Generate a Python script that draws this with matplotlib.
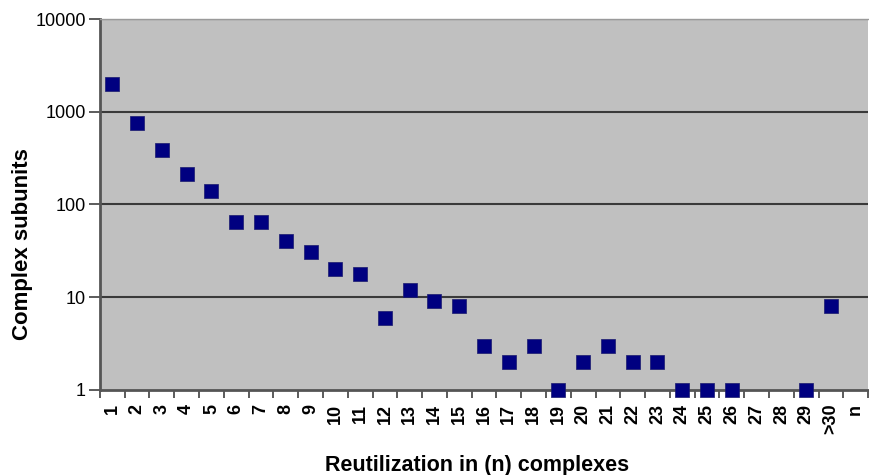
import numpy as np
import matplotlib
matplotlib.use("Agg")
import matplotlib.pyplot as plt
from matplotlib.ticker import FixedLocator, NullFormatter, NullLocator

plt.rcParams['font.family'] = ['Liberation Sans', 'DejaVu Sans']

# categories on the x axis (number of complexes a subunit is reused in)
categories = [str(i) for i in range(1, 30)] + ['>30', 'n']
# subunit counts per category (None = no point shown)
counts = [2000, 750, 390, 215, 140, 65, 65, 40, 31, 20,
          18, 6, 12, 9, 8, 3, 2, 3, 1, 2,
          3, 2, 2, 1, 1, 1, None, None, 1, 8, None]

xpos = np.arange(1, len(categories) + 1)
xs = [x for x, c in zip(xpos, counts) if c is not None]
ys = [c for c in counts if c is not None]

fig = plt.figure(figsize=(8.69, 4.75), dpi=100)
ax = fig.add_axes([0.115, 0.179, 0.884, 0.781])
ax.set_facecolor('#c0c0c0')

ax.set_yscale('log')
ax.set_ylim(1, 10000)
ax.set_xlim(0.5, len(categories) + 0.5)

for v in [10, 100, 1000, 10000]:
    ax.axhline(v, color='#3a3a3a', lw=1.5, zorder=1)

ax.scatter(xs, ys, marker='s', s=90, color='#000080', edgecolors='#1a1a6e',
           linewidths=0.5, zorder=3, clip_on=False)

ax.set_yticks([1, 10, 100, 1000, 10000])
ax.set_yticklabels(['1', '10', '100', '1000', '10000'])
ax.yaxis.set_minor_locator(NullLocator())
ax.tick_params(axis='y', direction='out', length=8, width=1.2, color='#404040',
               labelsize=13, pad=2)

ax.set_xticks(xpos)
ax.set_xticklabels(categories, rotation=90, fontweight='bold')
ax.xaxis.set_minor_locator(FixedLocator(np.arange(0.5, len(categories) + 1, 1)))
ax.xaxis.set_minor_formatter(NullFormatter())
ax.tick_params(axis='x', which='major', length=0, labelsize=13, pad=10)
ax.tick_params(axis='x', which='minor', direction='out', length=6, width=1.2,
               color='#404040')

for side in ['left', 'bottom']:
    ax.spines[side].set_color('#555555')
    ax.spines[side].set_linewidth(2)
ax.spines['top'].set_color('#9a9a9a')
ax.spines['top'].set_linewidth(1)
ax.spines['right'].set_visible(False)

fig.text(23 / 869, 0.486, 'Complex subunits', rotation=90, fontsize=16,
         fontweight='bold', ha='center', va='center')
fig.text(477 / 869, 1 - 471 / 475, 'Reutilization in (n) complexes',
         fontsize=15.5, fontweight='bold', ha='center', va='baseline')

fig.savefig('out.png', dpi=100)
